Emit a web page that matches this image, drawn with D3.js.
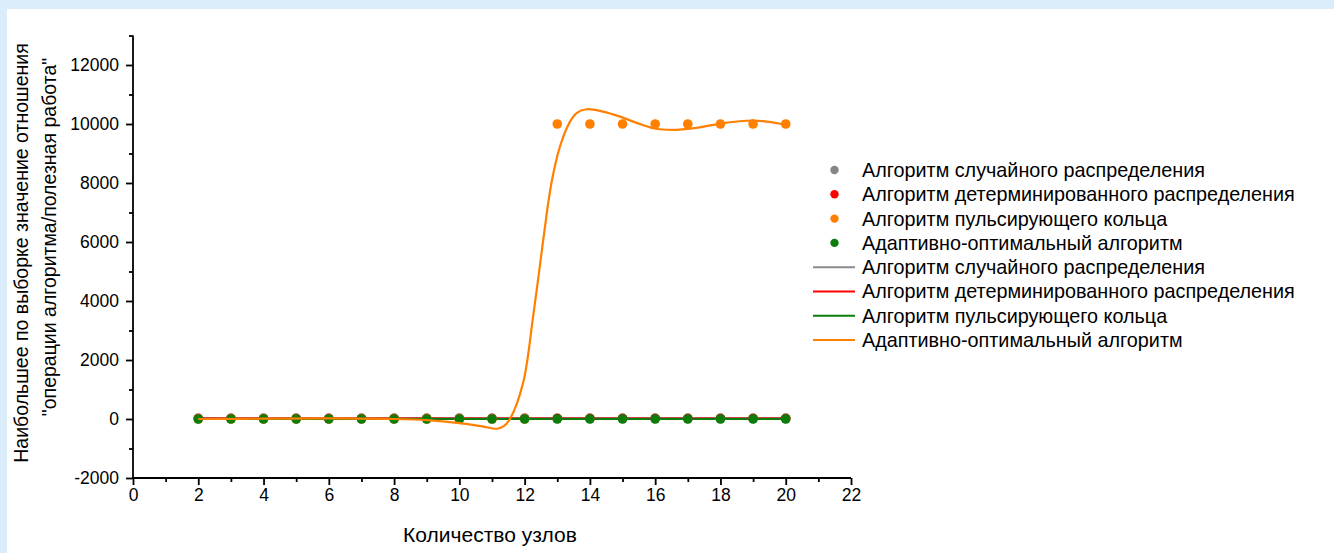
<!DOCTYPE html>
<html>
<head>
<meta charset="utf-8">
<script src="https://cdn.jsdelivr.net/npm/d3@7"></script>
<style>
  html, body { margin: 0; padding: 0; background: #dbecfb; }
  svg { display: block; }
  text { font-family: "Liberation Sans", Arial, sans-serif; fill: #000; }
</style>
</head>
<body>
<svg id="chart" width="1334" height="553"></svg>
<script>
// Number of nodes
const nodes = [2, 3, 4, 5, 6, 7, 8, 9, 10, 11, 12, 13, 14, 15, 16, 17, 18, 19, 20];

// Sample maxima of the "algorithm operations / useful work" ratio
const randomVals        = [30, 30, 30, 30, 30, 30, 30, 30, 30, 30, 30, 30, 30, 30, 30, 30, 30, 30, 30];
const deterministicVals = [15, 15, 15, 15, 15, 15, 15, 15, 15, 15, 15, 15, 15, 15, 15, 15, 15, 15, 15];
const ringVals          = [0, 0, 0, 0, 0, 0, 0, 0, 0, 0, 0, 10000, 10000, 10000, 10000, 10000, 10000, 10000, 10000];
const adaptiveVals      = [0, 0, 0, 0, 0, 0, 0, 0, 0, 0, 0, 0, 0, 0, 0, 0, 0, 0, 0];

// Smoothed fit curve (x, y)
const fitX = [2, 4, 6, 8, 9, 10, 10.7, 11.15, 11.35, 11.55, 11.95, 12.26, 12.57, 12.82, 13.08, 13.39, 13.6, 13.9, 14.4, 14.92, 15.45, 15.94, 16.55, 17.2, 17.78, 18.3, 18.8, 19.3, 19.92, 20];
const fitY = [0, 10, 20, 0, -40, -140, -250, -330, -250, 0, 1210, 3470, 6070, 7990, 9230, 10080, 10380, 10500, 10420, 10250, 10030, 9855, 9800, 9860, 9970, 10060, 10110, 10100, 9990, 9970];

// Axis ticks
const xTicks = [0, 2, 4, 6, 8, 10, 12, 14, 16, 18, 20, 22];
const xMinor = [1, 3, 5, 7, 9, 11, 13, 15, 17, 19, 21];
const yTicks = [-2000, 0, 2000, 4000, 6000, 8000, 10000, 12000];
const yMinor = [-1000, 1000, 3000, 5000, 7000, 9000, 11000, 13000];

const legendLabels = [
  "Алгоритм случайного распределения",
  "Алгоритм детерминированного распределения",
  "Алгоритм пульсирующего кольца",
  "Адаптивно-оптимальный алгоритм"
];
const pointColors = ["#868686", "#ff0000", "#ff8000", "#0a7d0a"];
const lineColors  = ["#8a8a8a", "#ff0000", "#0a7d0a", "#ff8000"];

const svg = d3.select("#chart");

// White page area
svg.append("rect").attr("x", 7).attr("y", 9).attr("width", 1334 - 7).attr("height", 553 - 9).attr("fill", "#ffffff");

const x = d3.scaleLinear().domain([0, 22]).range([133, 851]);
const y = d3.scaleLinear().domain([-2000, 13000]).range([478, 35.5]);

const g = svg.append("g");

// Axes (plain hyphen for negative labels)
const fmt = d => String(d);
const xAxis = d3.axisBottom(x).tickValues(xTicks).tickSize(7).tickPadding(4).tickFormat(fmt);
const xAxisMinor = d3.axisBottom(x).tickValues(xMinor).tickSize(4).tickFormat("");
const yAxis = d3.axisLeft(y).tickValues(yTicks).tickSize(7).tickPadding(7).tickFormat(fmt);
const yAxisMinor = d3.axisLeft(y).tickValues(yMinor).tickSize(4).tickFormat("");

function styleAxis(sel) {
  sel.select(".domain").attr("stroke", "#000").attr("stroke-width", 1.8);
  sel.selectAll(".tick line").attr("stroke", "#000").attr("stroke-width", 1.8);
  sel.selectAll(".tick text").attr("font-size", 17.5).attr("font-family", "Liberation Sans, Arial, sans-serif").attr("fill", "#000");
}

g.append("g").attr("transform", `translate(0,${y(-2000)})`).call(xAxisMinor).call(styleAxis).select(".domain").remove();
g.append("g").attr("transform", `translate(${x(0)},0)`).call(yAxisMinor).call(styleAxis).select(".domain").remove();
const gx = g.append("g").attr("transform", `translate(0,${y(-2000)})`).call(xAxis).call(styleAxis);
gx.select(".domain").attr("d", `M${x(0)},0H${x(22)}`);
const gy = g.append("g").attr("transform", `translate(${x(0)},0)`).call(yAxis).call(styleAxis);
gy.select(".domain").attr("d", `M0,${y(-2000)}V${y(13000)}`);

// Axis titles
svg.append("text").attr("x", 490).attr("y", 542).attr("text-anchor", "middle").attr("font-size", 21)
  .text("Количество узлов");
svg.append("text").attr("transform", "translate(27.5,253) rotate(-90)").attr("text-anchor", "middle").attr("font-size", 19.5)
  .text("Наибольшее по выборке значение отношения");
svg.append("text").attr("transform", "translate(55.5,237) rotate(-90)").attr("text-anchor", "middle").attr("font-size", 19.5)
  .text("\"операции алгоритма/полезная работа\"");

const series = [randomVals, deterministicVals, ringVals, adaptiveVals];
const line = d3.line().x(d => x(d[0])).y(d => y(d[1]));

// Fit lines for the flat series (drawn beneath points)
[randomVals, deterministicVals, adaptiveVals].forEach((vals, i) => {
  g.append("path")
    .datum(nodes.map((n, j) => [n, vals[j]]))
    .attr("d", line)
    .attr("fill", "none")
    .attr("stroke", lineColors[i])
    .attr("stroke-width", 2.2);
});

// Scatter points
series.forEach((vals, i) => {
  g.append("g").selectAll("circle")
    .data(nodes.map((n, j) => [n, vals[j]]))
    .join("circle")
    .attr("cx", d => x(d[0]))
    .attr("cy", d => y(d[1]))
    .attr("r", 4.8)
    .attr("fill", pointColors[i]);
});

// Smoothed curve
g.append("path")
  .datum(fitX.map((v, i) => [v, fitY[i]]))
  .attr("d", line.curve(d3.curveCatmullRom.alpha(0.5)))
  .attr("fill", "none")
  .attr("stroke", lineColors[3])
  .attr("stroke-width", 2.2);

// Legend
const leg = svg.append("g");
const rowY = i => 170 + i * 24.3;
legendLabels.forEach((lab, i) => {
  leg.append("circle").attr("cx", 834.5).attr("cy", rowY(i)).attr("r", 4.2).attr("fill", pointColors[i]);
  leg.append("text").attr("x", 862).attr("y", rowY(i)).attr("dy", "0.35em").attr("font-size", 19.8).text(lab);
});
legendLabels.forEach((lab, k) => {
  const i = k + 4;
  leg.append("line").attr("x1", 813).attr("x2", 855).attr("y1", rowY(i)).attr("y2", rowY(i))
    .attr("stroke", lineColors[k]).attr("stroke-width", 2);
  leg.append("text").attr("x", 862).attr("y", rowY(i)).attr("dy", "0.35em").attr("font-size", 19.8)
    .text(lab);
});
</script>
</body>
</html>
